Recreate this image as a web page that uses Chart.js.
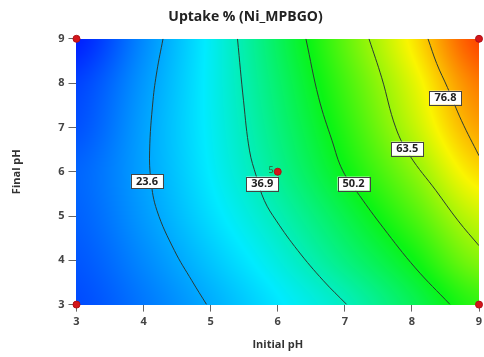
<!DOCTYPE html>
<html>
<head>
<meta charset="utf-8">
<script src="https://cdn.jsdelivr.net/npm/chart.js@4.4.1/dist/chart.umd.min.js"></script>
<style>
  html, body { margin: 0; padding: 0; background: #fff; }
  #wrap { width: 484px; height: 357px; }
</style>
</head>
<body>
<div id="wrap"><canvas id="chart" width="484" height="357"></canvas></div>
<script>
// Achsen (Initial pH / Final pH)
const phTicks = [3, 4, 5, 6, 7, 8, 9];

// geschätzte Uptake-Werte auf dem Raster (Zeilen: Final pH 3..9, Spalten: Initial pH 3..9)
const uptakeGrid = [
    [13.0, 18.0, 24.0, 30.4, 36.6, 45.2, 54.3],
    [14.3, 20.0, 26.8, 33.8, 41.8, 50.6, 61.6],
    [15.5, 21.9, 29.5, 37.2, 46.2, 56.4, 67.8],
    [15.9, 22.8, 31.2, 40.2, 50.6, 61.8, 74.5],
    [13.7, 22.7, 31.9, 42.0, 53.5, 66.6, 80.0],
    [12.0, 21.7, 32.1, 43.4, 55.9, 69.5, 84.0],
    [ 8.0, 20.1, 32.0, 44.7, 58.4, 73.1, 89.0]
];
// Farbskala: Wert -> Farbe (blau, cyan, grün, gelb, rot)
const colorStops = [8, 31, 51, 72, 92];
const colorRGB = [[0, 30, 255], [0, 235, 255], [10, 245, 20], [250, 245, 0], [255, 40, 0]];

// Konturlinien
const contourLevels = [23.6, 36.9, 50.2, 63.5, 76.8];
const contour236 = [[4.29, 9.0], [4.20, 8.28], [4.14, 7.60], [4.09, 6.47], [4.11, 5.80], [4.20, 5.12], [4.46, 4.22], [4.72, 3.54], [4.94, 3.0]];
const contour369 = [[5.40, 9.0], [5.49, 7.60], [5.58, 6.47], [5.68, 5.90], [5.80, 5.35], [5.98, 4.89], [6.30, 4.22], [6.68, 3.54], [7.03, 3.0]];
const contour502 = [[6.42, 9.0], [6.61, 7.67], [6.81, 6.70], [6.97, 6.02], [7.22, 5.46], [7.57, 4.74], [8.05, 3.83], [8.57, 3.0]];
const contour635 = [[7.36, 9.0], [7.55, 8.12], [7.76, 6.99], [7.97, 6.36], [8.36, 5.57], [8.69, 4.89], [9.0, 4.33]];
const contour768 = [[8.24, 9.0], [8.37, 8.44], [8.53, 7.90], [8.74, 7.15], [9.0, 6.36]];
const contourLines = [contour236, contour369, contour502, contour635, contour768];

// Position der Beschriftungen (Datenkoordinaten)
const labelX = [4.05, 5.77, 7.13, 7.93, 8.50];
const labelY = [5.78, 5.73, 5.73, 6.52, 7.67];

// Versuchspunkte
const designX = [3, 3, 9, 9, 6];
const designY = [3, 9, 3, 9, 6];
const designCount = ['', '', '', '', '5'];

function catmull(p0, p1, p2, p3, t) {
    return 0.5 * ((2 * p1) + (-p0 + p2) * t + (2 * p0 - 5 * p1 + 4 * p2 - p3) * t * t + (-p0 + 3 * p1 - 3 * p2 + p3) * t * t * t);
}

function gridValue(px, py) {
    // bikubische Interpolation im Raster
    const fx = Math.min(Math.max(px - 3, 0), 6);
    const fy = Math.min(Math.max(py - 3, 0), 6);
    const i = Math.min(Math.floor(fx), 5), j = Math.min(Math.floor(fy), 5);
    const tx = fx - i, ty = fy - j;
    const at = (r, c) => {
        r = Math.min(Math.max(r, 0), 6);
        c = Math.min(Math.max(c, 0), 6);
        return uptakeGrid[r][c];
    };
    const rows = [];
    for (let k = -1; k <= 2; k++) {
        rows.push(catmull(at(j + k, i - 1), at(j + k, i), at(j + k, i + 1), at(j + k, i + 2), tx));
    }
    return catmull(rows[0], rows[1], rows[2], rows[3], ty);
}

function colorFor(v) {
    if (v <= colorStops[0]) return colorRGB[0];
    for (let k = 0; k < colorStops.length - 1; k++) {
        if (v <= colorStops[k + 1]) {
            const f = (v - colorStops[k]) / (colorStops[k + 1] - colorStops[k]);
            const s = colorRGB[k], e = colorRGB[k + 1];
            return [s[0] + (e[0] - s[0]) * f, s[1] + (e[1] - s[1]) * f, s[2] + (e[2] - s[2]) * f];
        }
    }
    return colorRGB[colorRGB.length - 1];
}

const heatmapPlugin = {
    id: 'heatmap',
    beforeDatasetsDraw(chart) {
        const { ctx, chartArea: area, scales } = chart;
        const left = Math.round(area.left), top = Math.round(area.top);
        const w = Math.round(area.right) - left, h = Math.round(area.bottom) - top;
        const img = ctx.createImageData(w, h);
        for (let j = 0; j < h; j++) {
            const vy = scales.y.getValueForPixel(top + j + 0.5);
            for (let i = 0; i < w; i++) {
                const vx = scales.x.getValueForPixel(left + i + 0.5);
                const col = colorFor(gridValue(vx, vy));
                const p = (j * w + i) * 4;
                img.data[p] = col[0];
                img.data[p + 1] = col[1];
                img.data[p + 2] = col[2];
                img.data[p + 3] = 255;
            }
        }
        ctx.putImageData(img, left, top);
    }
};

const labelPlugin = {
    id: 'contourLabels',
    afterDatasetsDraw(chart) {
        const { ctx, scales } = chart;
        ctx.save();
        ctx.font = 'bold 11px "Open Sans", sans-serif';
        ctx.textAlign = 'center';
        ctx.textBaseline = 'middle';
        contourLevels.forEach((lvl, i) => {
            const cx = scales.x.getPixelForValue(labelX[i]);
            const cy = scales.y.getPixelForValue(labelY[i]);
            const txt = lvl.toFixed(1);
            const bw = ctx.measureText(txt).width + 10;
            ctx.fillStyle = '#fff';
            ctx.fillRect(cx - bw / 2, cy - 7, bw, 14);
            ctx.strokeStyle = '#444';
            ctx.lineWidth = 1;
            ctx.strokeRect(Math.round(cx - bw / 2) + 0.5, Math.round(cy - 7) + 0.5, Math.round(bw), 14);
            ctx.fillStyle = '#222';
            ctx.fillText(txt, cx, cy + 0.5);
        });
        // Anzahl der Wiederholungen am Zentralpunkt
        ctx.font = '9px "Open Sans", sans-serif';
        ctx.fillStyle = '#2d5a2d';
        ctx.textAlign = 'right';
        designCount.forEach((n, i) => {
            if (!n) return;
            ctx.fillText(n, scales.x.getPixelForValue(designX[i]) - 4, scales.y.getPixelForValue(designY[i]) - 1);
        });
        ctx.restore();
    }
};

const datasets = contourLines.map((pts, i) => ({
    label: 'Kontur ' + contourLevels[i],
    data: pts.map(p => ({ x: p[0], y: p[1] })),
    showLine: true,
    borderColor: '#2b3b33',
    borderWidth: 1,
    pointRadius: 0,
    tension: 0.4,
    fill: false
}));
datasets.push({
    label: 'Design',
    data: designX.map((x, i) => ({ x: x, y: designY[i] })),
    pointRadius: 3.5,
    pointBackgroundColor: '#d4161b',
    pointBorderColor: '#b01015',
    pointBorderWidth: 1,
    clip: false
});

const tickFont = { family: '"Open Sans", sans-serif', size: 11, weight: 'bold' };

new Chart(document.getElementById('chart').getContext('2d'), {
    type: 'scatter',
    data: { datasets: datasets },
    plugins: [heatmapPlugin, labelPlugin],
    options: {
        responsive: false,
        animation: false,
        layout: { padding: { left: 8, right: 1, top: 4, bottom: 6 } },
        plugins: {
            legend: { display: false },
            tooltip: { enabled: false },
            title: {
                display: true,
                text: 'Uptake % (Ni_MPBGO)',
                color: '#222',
                font: { family: '"Open Sans", sans-serif', size: 14, weight: 'bold' },
                padding: { top: 5, bottom: 13 }
            }
        },
        scales: {
            x: {
                type: 'linear',
                min: 3, max: 9,
                afterBuildTicks: s => { s.ticks = phTicks.map(v => ({ value: v })); },
                afterFit: s => { s.paddingRight = 0; s.paddingLeft = 0; },
                grid: { drawOnChartArea: false, drawTicks: true, tickLength: 7, color: '#666' },
                border: { display: true, color: '#7a8a90' },
                ticks: { color: '#444', font: tickFont, padding: 4, maxRotation: 0 },
                title: { display: true, text: 'Initial pH', color: '#333', font: tickFont, padding: { top: 5, bottom: 0 } }
            },
            y: {
                type: 'linear',
                min: 3, max: 9,
                afterBuildTicks: s => { s.ticks = phTicks.map(v => ({ value: v })); },
                grid: { drawOnChartArea: false, drawTicks: true, tickLength: 8, color: '#666' },
                border: { display: true, color: '#7a8a90' },
                ticks: { color: '#444', font: tickFont, padding: 4 },
                title: { display: true, text: 'Final pH', color: '#333', font: tickFont, padding: { top: 2, bottom: 31 } }
            }
        }
    }
});
</script>
</body>
</html>
